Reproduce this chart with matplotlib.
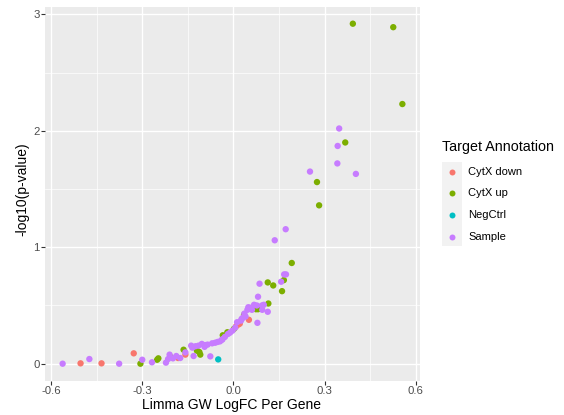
import matplotlib
matplotlib.use("Agg")
import matplotlib.pyplot as plt
from matplotlib.patches import Rectangle

plt.rcParams['font.family'] = ['Liberation Sans', 'DejaVu Sans']

# ---- data (logFC, -log10 p) ----
down_x = [-0.503, -0.434, -0.328, -0.182, -0.158, 0.009, 0.016, 0.021, 0.051]
down_y = [0.003, 0.003, 0.089, 0.049, 0.078, 0.322, 0.336, 0.344, 0.377]

up_x = [0.393, 0.526, 0.556, 0.368, 0.275, 0.282, 0.192, 0.166, 0.113, 0.131,
        0.160, 0.115, 0.074, 0.081, 0.035, -0.020, -0.035, -0.306, -0.251,
        -0.247, -0.208, -0.164, -0.120, -0.112, -0.109, 0.002]
up_y = [2.92, 2.89, 2.23, 1.90, 1.56, 1.36, 0.865, 0.718, 0.698, 0.672,
        0.623, 0.517, 0.468, 0.468, 0.420, 0.270, 0.244, 0.000, 0.034,
        0.046, 0.060, 0.120, 0.112, 0.100, 0.078, 0.300]

neg_x = [-0.050]
neg_y = [0.037]

samp_x = [-0.562, -0.474, -0.376, -0.300, -0.268, -0.222, -0.215, -0.210,
          -0.199, -0.188, -0.175, -0.158, -0.139, -0.135, -0.131, -0.125,
          -0.115, -0.104, -0.095, -0.093, -0.085, -0.076, -0.070, -0.060,
          -0.052, -0.044, -0.036, -0.028, -0.038, -0.011, -0.003, 0.006,
          0.025, 0.027, 0.031, 0.036, 0.046, 0.049, 0.055, 0.061, 0.068,
          0.077, 0.094, 0.100, 0.095, 0.113, 0.079, 0.081, 0.086, 0.157,
          0.167, 0.173, 0.136, 0.172, 0.252, 0.342, 0.343, 0.348, 0.403,
          0.040, 0.012, -0.018]
samp_y = [0.000, 0.040, 0.000, 0.034, 0.012, 0.009, 0.040, 0.078,
          0.046, 0.066, 0.049, 0.097, 0.155, 0.138, 0.066, 0.150,
          0.155, 0.170, 0.145, 0.160, 0.164, 0.063, 0.175, 0.180,
          0.187, 0.192, 0.210, 0.230, 0.205, 0.267, 0.284, 0.310,
          0.370, 0.385, 0.394, 0.430, 0.463, 0.485, 0.480, 0.463, 0.506,
          0.500, 0.500, 0.506, 0.463, 0.446, 0.351, 0.575, 0.687, 0.704,
          0.767, 0.767, 1.060, 1.155, 1.650, 1.720, 1.870, 2.020, 1.630,
          0.405, 0.356, 0.255]

groups = ['CytX down', 'CytX up', 'NegCtrl', 'Sample']
colors = ['#F8766D', '#7CAE00', '#00BFC4', '#C77CFF']
series = [(down_x, down_y), (up_x, up_y), (neg_x, neg_y), (samp_x, samp_y)]

W, H = 564, 415
fig = plt.figure(figsize=(W / 100, H / 100), dpi=100)
ax = fig.add_axes([45 / W, 1 - 380.7 / H, 375 / W, 374 / H])
ax.set_facecolor('#EBEBEB')
for s in ax.spines.values():
    s.set_visible(False)

ax.set_xlim(-0.62, 0.614)
ax.set_ylim(-0.146, 3.066)
ax.set_xticks([-0.6, -0.3, 0.0, 0.3, 0.6])
ax.set_xticklabels(['-0.6', '-0.3', '0.0', '0.3', '0.6'])
ax.set_yticks([0, 1, 2, 3])
ax.set_xticks([-0.45, -0.15, 0.15, 0.45], minor=True)
ax.set_yticks([0.5, 1.5, 2.5], minor=True)
ax.grid(which='major', color='white', linewidth=1.0)
ax.grid(which='minor', color='white', linewidth=0.5)
ax.set_axisbelow(True)
ax.tick_params(which='major', length=2.8, width=0.8, color='#333333',
               labelsize=8.2, labelcolor='#4D4D4D', pad=1.2)
ax.tick_params(which='minor', length=0)

for (xs, ys), c in zip(series, colors):
    ax.scatter(xs, ys, s=21, color=c, edgecolors='none', zorder=3)

ax.set_xlabel('Limma GW LogFC Per Gene', fontsize=10, va='center')
ax.xaxis.set_label_coords(232 / W, 1 - 405 / H, transform=fig.transFigure)
ax.set_ylabel('-log10(p-value)', fontsize=10, va='center')
ax.yaxis.set_label_coords(22.5 / W, 1 - 189 / H, transform=fig.transFigure)

# legend drawn in figure pixel coordinates
fig.text(441.7 / W, 1 - 147 / H, 'Target Annotation', fontsize=10.3,
         ha='left', va='center')
fig.patches.append(Rectangle((441.7 / W, 1 - 246 / H), 20 / W, 84 / H,
                             transform=fig.transFigure, facecolor='#F2F2F2',
                             edgecolor='none'))
key_y = [171.7, 192.7, 215, 236.7]
for g, c, ky in zip(groups, colors, key_y):
    fig.lines.append(plt.Line2D([451.7 / W], [1 - ky / H], marker='o',
                                markersize=4.3, color=c, markeredgewidth=0,
                                transform=fig.transFigure))
    fig.text(468 / W, 1 - ky / H, g, fontsize=8, ha='left', va='center')

fig.savefig('out.png', dpi=100)
